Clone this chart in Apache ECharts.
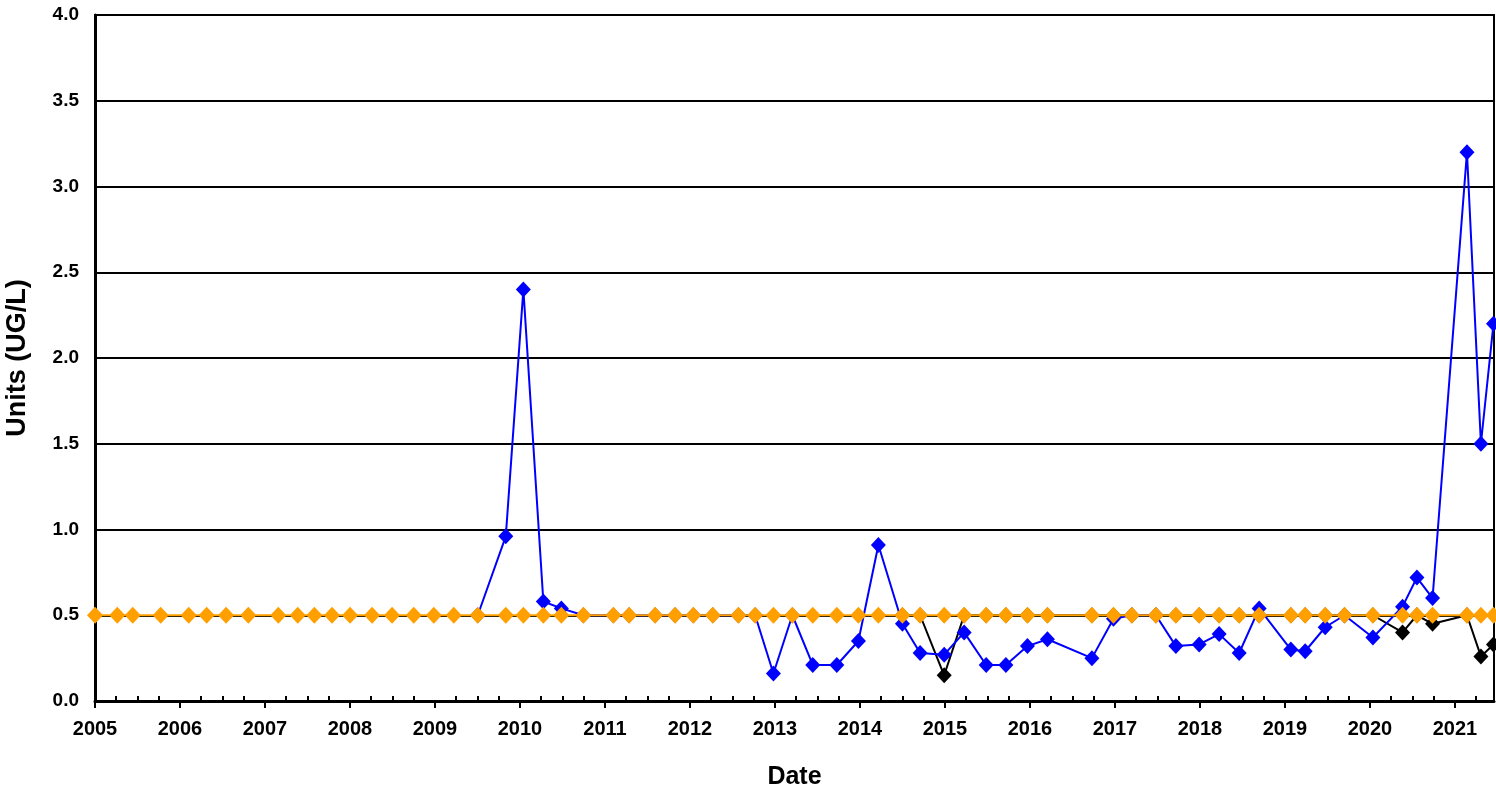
<!DOCTYPE html>
<html>
<head>
<meta charset="utf-8">
<script src="https://cdn.jsdelivr.net/npm/echarts@6/dist/echarts.min.js"></script>
<style>
  html, body { margin: 0; padding: 0; background: #fff; }
  #chart { width: 1496px; height: 795px; }
</style>
</head>
<body>
<div id="chart"></div>
<script>
// Sampling dates as decimal years
const sampleYears = [
  2005.000, 2005.262, 2005.444, 2005.773, 2006.103, 2006.314, 2006.542, 2006.804,
  2007.157, 2007.385, 2007.581, 2007.789, 2008.001, 2008.260, 2008.495, 2008.750,
  2008.986, 2009.221, 2009.503, 2009.833, 2010.040, 2010.275, 2010.487, 2010.746,
  2011.099, 2011.284, 2011.590, 2011.825, 2012.040, 2012.269, 2012.570, 2012.767,
  2012.982, 2013.205, 2013.445, 2013.728, 2013.982, 2014.217, 2014.500, 2014.708,
  2014.991, 2015.226, 2015.485, 2015.717, 2015.971, 2016.206, 2016.729, 2016.983,
  2017.199, 2017.482, 2017.717, 2017.991, 2018.226, 2018.462, 2018.697, 2019.070,
  2019.238, 2019.474, 2019.701, 2020.035, 2020.384, 2020.553, 2020.737, 2021.142,
  2021.306, 2021.454
];

// Reporting limit (orange), one value per sampling date
const limitValues = [
  0.5, 0.5, 0.5, 0.5, 0.5, 0.5, 0.5, 0.5, 0.5, 0.5, 0.5, 0.5, 0.5, 0.5, 0.5, 0.5,
  0.5, 0.5, 0.5, 0.5, 0.5, 0.5, 0.5, 0.5, 0.5, 0.5, 0.5, 0.5, 0.5, 0.5, 0.5, 0.5,
  0.5, 0.5, 0.5, 0.5, 0.5, 0.5, 0.5, 0.5, 0.5, 0.5, 0.5, 0.5, 0.5, 0.5, 0.5, 0.5,
  0.5, 0.5, 0.5, 0.5, 0.5, 0.5, 0.5, 0.5, 0.5, 0.5, 0.5, 0.5, 0.5, 0.5, 0.5, 0.5,
  0.5, 0.5
];

// Measured results (blue), from the 2009.5 sample onward
const blueStart = 18;
const blueValues = [
  0.5, 0.96, 2.4, 0.58, 0.54, 0.5, 0.5, 0.5, 0.5, 0.5, 0.5, 0.5, 0.5, 0.5,
  0.16, 0.5, 0.21, 0.21, 0.35, 0.91, 0.45, 0.28, 0.27, 0.40, 0.21, 0.21, 0.32, 0.36,
  0.25, 0.48, 0.5, 0.5, 0.32, 0.33, 0.39, 0.28, 0.54, 0.30, 0.29, 0.43, 0.5,
  0.37, 0.55, 0.72, 0.60, 3.2, 1.5, 2.2
];

// Second result set (black), from the mid-2014 sample onward
const blackStart = 38;
const blackValues = [
  0.5, 0.5, 0.15, 0.5, 0.5, 0.5, 0.5, 0.5, 0.5, 0.5, 0.5, 0.5, 0.5, 0.5,
  0.5, 0.5, 0.5, 0.5, 0.5, 0.5, 0.5, 0.5, 0.40, 0.5, 0.45, 0.5, 0.26, 0.33
];

const yearTicks = [2005, 2006, 2007, 2008, 2009, 2010, 2011, 2012, 2013,
                   2014, 2015, 2016, 2017, 2018, 2019, 2020, 2021];
const yTicks = [0, 0.5, 1.0, 1.5, 2.0, 2.5, 3.0, 3.5, 4.0];

const xMin = 2005, xMax = 2021.46;

// Quarter ticks between the yearly ones
const quarterTicks = [];
yearTicks.forEach(y => {
  [0.25, 0.5, 0.75].forEach(q => { if (y + q < xMax) quarterTicks.push(y + q); });
});

const pairs = (start, values) => values.map((v, i) => [sampleYears[start + i], v]);

const FONT = "'Liberation Sans', Arial, Helvetica, sans-serif";

const chart = echarts.init(document.getElementById('chart'), null, { renderer: 'canvas' });

chart.setOption({
  animation: false,
  backgroundColor: '#fff',
  grid: {
    left: 95, right: 2, top: 15, bottom: 94,
    show: true, borderColor: '#000', borderWidth: 2,
    outerBoundsMode: 'none'
  },
  xAxis: [
    {
      type: 'value', position: 'bottom', min: xMin, max: xMax,
      name: 'Date', nameLocation: 'middle', nameGap: 64,
      nameTextStyle: { fontFamily: FONT, fontWeight: 'bold', fontSize: 25, color: '#000' },
      axisLine: { show: true, onZero: false, lineStyle: { color: '#000', width: 3 } },
      axisTick: { show: true, inside: false, length: 7, customValues: yearTicks,
                  lineStyle: { color: '#000', width: 2 } },
      axisLabel: { show: true, customValues: yearTicks, margin: 18,
                   fontFamily: FONT, fontWeight: 'bold', fontSize: 20, color: '#000',
                   formatter: v => String(Math.round(v)) },
      splitLine: { show: false }
    },
    {
      type: 'value', position: 'bottom', min: xMin, max: xMax,
      axisLine: { show: false, onZero: false },
      axisTick: { show: true, inside: true, length: 5, customValues: quarterTicks,
                  lineStyle: { color: '#000', width: 2 } },
      axisLabel: { show: false },
      splitLine: { show: false }
    }
  ],
  yAxis: {
    type: 'value', min: 0, max: 4, interval: 0.5,
    name: 'Units (UG/L)', nameLocation: 'middle', nameGap: 64,
    nameTextStyle: { fontFamily: FONT, fontWeight: 'bold', fontSize: 27, color: '#000' },
    axisLine: { show: true, lineStyle: { color: '#000', width: 3 } },
    axisTick: { show: false },
    axisLabel: { margin: 16, fontFamily: FONT, fontWeight: 'bold', fontSize: 19, color: '#000',
                 customValues: yTicks, formatter: v => v.toFixed(1) },
    splitLine: { show: true, lineStyle: { color: '#000', width: 2 } }
  },
  series: [
    {
      name: 'Duplicate', type: 'line', xAxisIndex: 0,
      data: pairs(blackStart, blackValues),
      symbol: 'diamond', symbolSize: [15, 16],
      lineStyle: { color: '#000', width: 2 },
      itemStyle: { color: '#000' }
    },
    {
      name: 'Result', type: 'line', xAxisIndex: 0,
      data: pairs(blueStart, blueValues),
      symbol: 'diamond', symbolSize: [15, 16],
      lineStyle: { color: '#0000ff', width: 2 },
      itemStyle: { color: '#0000ff' }
    },
    {
      name: 'Reporting Limit', type: 'line', xAxisIndex: 0,
      data: pairs(0, limitValues),
      symbol: 'diamond', symbolSize: [16, 17],
      lineStyle: { color: '#ff9f00', width: 2 },
      itemStyle: { color: '#ff9f00' }
    }
  ]
});
</script>
</body>
</html>
